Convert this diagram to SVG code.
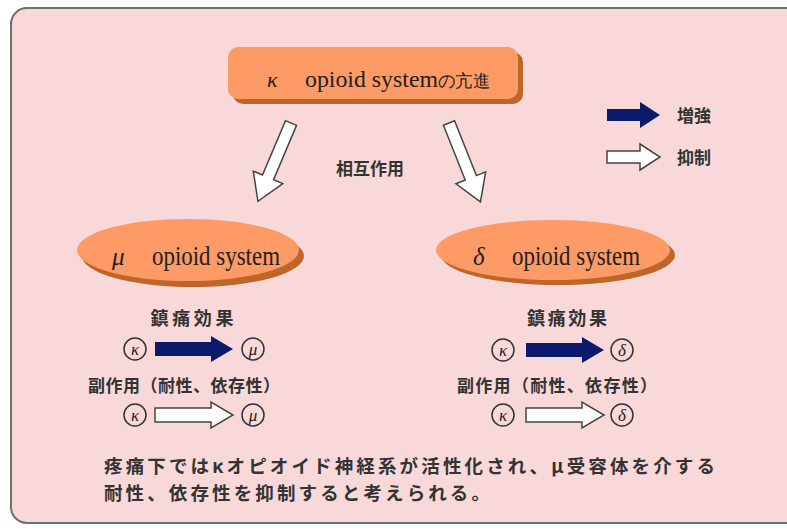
<svg xmlns="http://www.w3.org/2000/svg" width="787" height="529" viewBox="0 0 787 529">
<defs>
<style>
.serif{font-family:"Liberation Serif","DejaVu Serif",serif;fill:#222}
.jp{font-family:"Noto Sans CJK JP","Noto Sans CJK SC",sans-serif;fill:#333;font-weight:bold}
.fill{fill:#0b1a6b;stroke:none}
.open{fill:#fff;stroke:#444;stroke-width:1.5;stroke-linejoin:miter}
.node{fill:#fd9a65}
.shadow{fill:#c0652a}
.circ{fill:none;stroke:#333;stroke-width:1.5}
.sym{font-family:"Liberation Serif","DejaVu Serif",serif;font-style:italic;font-size:17px;fill:#222;text-anchor:middle}
</style>
<polygon id="blk" points="0,-7 56,-7 56,-13 78,0 56,13 56,7 0,7"/>
</defs>
<rect x="0" y="0" width="787" height="529" fill="#ffffff"/>
<rect x="11" y="8" width="790" height="515" rx="16" fill="#f9d8da" stroke="#6f6f6f" stroke-width="2"/>

<g id="kappa">
<rect class="shadow" x="233" y="52" width="290" height="52" rx="10"/>
<rect class="node" x="228" y="47" width="290" height="52" rx="10"/>
<text class="serif" x="267" y="87" font-size="22" font-style="italic">κ</text>
<text class="serif" x="305" y="87" font-size="24" textLength="133" lengthAdjust="spacingAndGlyphs">opioid system</text>
<text class="serif" x="438" y="87" font-size="18" font-family="Noto Sans CJK JP" textLength="52" lengthAdjust="spacingAndGlyphs">の亢進</text>
</g>

<g id="mu">
<ellipse class="shadow" cx="193" cy="256" rx="111" ry="31"/>
<ellipse class="node" cx="188" cy="250" rx="111" ry="31"/>
<text class="serif" x="112" y="265" font-size="25" font-style="italic">μ</text>
<text class="serif" x="152" y="265" font-size="27" textLength="128" lengthAdjust="spacingAndGlyphs">opioid system</text>
</g>

<g id="delta">
<ellipse class="shadow" cx="558" cy="255" rx="117" ry="30"/>
<ellipse class="node" cx="553" cy="250" rx="117" ry="30"/>
<text class="serif" x="473" y="265" font-size="25" font-style="italic">δ</text>
<text class="serif" x="512" y="265" font-size="27" textLength="128" lengthAdjust="spacingAndGlyphs">opioid system</text>
</g>

<g id="legend">
<polygon class="fill" points="607,109 640,109 640,102 660,115 640,128 640,121 607,121"/>
<text class="jp" x="677" y="122" font-size="17">増強</text>
<polygon class="open" points="607,151 640,151 640,144 660,157 640,170 640,163 607,163"/>
<text class="jp" x="677" y="164" font-size="17">抑制</text>
</g>

<g id="connectors">
<polygon class="open" transform="translate(291,123) rotate(112.9)" points="0,-6 59,-6 59,-16 85,0 59,16 59,6 0,6"/>
<polygon class="open" transform="translate(449,123) rotate(68.3)" points="0,-6 59,-6 59,-16 85,0 59,16 59,6 0,6"/>
</g>
<text class="jp" x="370" y="175" font-size="17" text-anchor="middle">相互作用</text>

<g id="mu-effects">
<text class="jp" x="192" y="325" font-size="18" text-anchor="middle" textLength="83">鎮痛効果</text>
<circle class="circ" cx="135" cy="349" r="11"/><text class="sym" x="135" y="355">κ</text>
<use href="#blk" class="fill" transform="translate(155,349)"/>
<circle class="circ" cx="253" cy="349" r="11"/><text class="sym" x="253" y="355">μ</text>
<text class="jp" x="184" y="392" font-size="17" text-anchor="middle" textLength="192">副作用（耐性、依存性）</text>
<circle class="circ" cx="135" cy="415" r="11"/><text class="sym" x="135" y="421">κ</text>
<use href="#blk" class="open" transform="translate(155,415)"/>
<circle class="circ" cx="253" cy="415" r="11"/><text class="sym" x="253" y="421">μ</text>
</g>

<g id="delta-effects">
<text class="jp" x="567" y="325" font-size="18" text-anchor="middle" textLength="80">鎮痛効果</text>
<circle class="circ" cx="503" cy="350" r="11"/><text class="sym" x="503" y="356">κ</text>
<use href="#blk" class="fill" transform="translate(526,350)"/>
<circle class="circ" cx="622" cy="350" r="11"/><text class="sym" x="622" y="356">δ</text>
<text class="jp" x="557" y="392" font-size="17" text-anchor="middle" textLength="200">副作用（耐性、依存性）</text>
<circle class="circ" cx="503" cy="415" r="11"/><text class="sym" x="503" y="421">κ</text>
<use href="#blk" class="open" transform="translate(526,415)"/>
<circle class="circ" cx="622" cy="415" r="11"/><text class="sym" x="622" y="421">δ</text>
</g>

<g id="note">
<text class="jp" x="104" y="473" font-size="18.5" textLength="611">疼痛下ではκオピオイド神経系が活性化され、μ受容体を介する</text>
<text class="jp" x="104" y="500" font-size="18.5" textLength="386">耐性、依存性を抑制すると考えられる。</text>
</g>
</svg>
